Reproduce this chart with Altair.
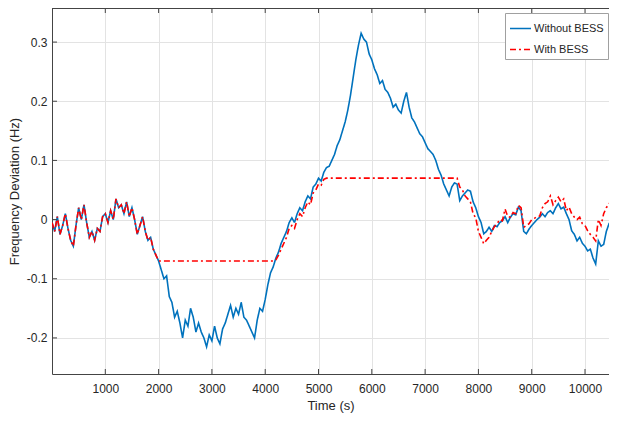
import altair as alt
import pandas as pd

# ---------------- data ----------------
time_s = list(range(0, 10651, 50))

without_bess = [
    # 0 - 950
    -0.005, -0.02, 0.005, -0.025, -0.01, 0.01, -0.015, -0.035, -0.045, -0.01,
    0.02, 0.0, 0.025, -0.005, -0.03, -0.02, -0.035, -0.015, -0.02, 0.005,
    # 1000 - 1950
    0.01, -0.005, 0.015, 0.0, 0.035, 0.02, 0.025, 0.01, 0.03, 0.005,
    0.02, 0.0, -0.025, -0.01, 0.005, -0.02, -0.035, -0.03, -0.05, -0.06,
    # 2000 - 2950
    -0.07, -0.085, -0.1, -0.095, -0.13, -0.14, -0.165, -0.155, -0.175, -0.2,
    -0.17, -0.18, -0.15, -0.165, -0.19, -0.175, -0.19, -0.2, -0.215, -0.195,
    # 3000 - 3950
    -0.205, -0.18, -0.2, -0.21, -0.185, -0.175, -0.16, -0.145, -0.165, -0.15,
    -0.16, -0.14, -0.165, -0.17, -0.18, -0.19, -0.2, -0.17, -0.15, -0.155,
    # 4000 - 4950
    -0.135, -0.11, -0.09, -0.08, -0.065, -0.055, -0.04, -0.03, -0.02, -0.005,
    0.003, -0.005, 0.01, 0.02, 0.015, 0.03, 0.04, 0.035, 0.055, 0.06,
    # 5000 - 5950
    0.07, 0.065, 0.08, 0.088, 0.09, 0.1, 0.11, 0.125, 0.135, 0.15,
    0.165, 0.185, 0.21, 0.24, 0.27, 0.295, 0.315, 0.305, 0.3, 0.28,
    # 6000 - 6950
    0.27, 0.255, 0.245, 0.23, 0.235, 0.22, 0.215, 0.205, 0.19, 0.195,
    0.185, 0.18, 0.2, 0.215, 0.19, 0.172, 0.165, 0.155, 0.145, 0.14,
    # 7000 - 7950
    0.13, 0.12, 0.115, 0.11, 0.1, 0.085, 0.075, 0.06, 0.05, 0.04,
    0.055, 0.062, 0.06, 0.032, 0.04, 0.045, 0.05, 0.048, 0.03, 0.02,
    # 8000 - 8950
    0.005, -0.005, -0.024, -0.02, -0.013, -0.02, -0.01, -0.012, -0.005, -0.002,
    0.005, -0.005, 0.004, 0.01, 0.008, 0.021, 0.015, -0.02, -0.024, -0.016,
    # 9000 - 9950
    -0.01, -0.005, 0.0, 0.004, 0.01, 0.005, 0.012, 0.015, 0.01, 0.02,
    0.027, 0.018, 0.021, 0.01, 0.0, -0.019, -0.025, -0.036, -0.03, -0.04,
    # 10000 - 10650
    -0.045, -0.053, -0.05, -0.065, -0.075, -0.036, -0.045, -0.042, -0.02, -0.007,
    0.0, 0.01, 0.005, 0.012,
]

with_bess = [
    # 0 - 950
    -0.005, -0.02, 0.005, -0.025, -0.01, 0.01, -0.015, -0.035, -0.045, -0.01,
    0.02, 0.0, 0.025, -0.005, -0.03, -0.02, -0.035, -0.015, -0.02, 0.005,
    # 1000 - 1950
    0.01, -0.005, 0.015, 0.0, 0.035, 0.02, 0.025, 0.01, 0.03, 0.005,
    0.02, 0.0, -0.025, -0.01, 0.005, -0.02, -0.035, -0.03, -0.05, -0.06,
    # 2000 - 2950
    -0.07, -0.07, -0.07, -0.07, -0.07, -0.07, -0.07, -0.07, -0.07, -0.07,
    -0.07, -0.07, -0.07, -0.07, -0.07, -0.07, -0.07, -0.07, -0.07, -0.07,
    # 3000 - 3950
    -0.07, -0.07, -0.07, -0.07, -0.07, -0.07, -0.07, -0.07, -0.07, -0.07,
    -0.07, -0.07, -0.07, -0.07, -0.07, -0.07, -0.07, -0.07, -0.07, -0.07,
    # 4000 - 4950
    -0.07, -0.07, -0.07, -0.07, -0.068, -0.06, -0.05, -0.04, -0.03, -0.015,
    -0.01, -0.015, 0.0, 0.01, 0.005, 0.02, 0.03, 0.025, 0.045, 0.05,
    # 5000 - 5950
    0.06, 0.058, 0.068, 0.07, 0.07, 0.07, 0.07, 0.07, 0.07, 0.07,
    0.07, 0.07, 0.07, 0.07, 0.07, 0.07, 0.07, 0.07, 0.07, 0.07,
    # 6000 - 6950
    0.07, 0.07, 0.07, 0.07, 0.07, 0.07, 0.07, 0.07, 0.07, 0.07,
    0.07, 0.07, 0.07, 0.07, 0.07, 0.07, 0.07, 0.07, 0.07, 0.07,
    # 7000 - 7950
    0.07, 0.07, 0.07, 0.07, 0.07, 0.07, 0.07, 0.07, 0.07, 0.07,
    0.07, 0.07, 0.07, 0.055, 0.05, 0.04, 0.035, 0.03, 0.01, 0.003,
    # 8000 - 8950
    -0.02, -0.03, -0.041, -0.035, -0.03, -0.02, -0.012, -0.007, 0.0, -0.002,
    0.018, 0.005, 0.004, 0.012, 0.01, 0.024, 0.02, -0.013, -0.01, -0.007,
    # 9000 - 9950
    0.0, 0.002, 0.005, 0.006, 0.02, 0.027, 0.03, 0.04, 0.025, 0.032,
    0.038, 0.03, 0.035, 0.015, 0.021, 0.01, 0.004, 0.0, 0.004, -0.007,
    # 10000 - 10650
    -0.01, -0.019, -0.025, -0.03, -0.036, 0.0, -0.01, 0.01, 0.02, 0.027,
    0.03, 0.038, 0.03, 0.035,
]

series_names = ["Without BESS", "With BESS"]
series_colors = ["#0072BD", "#FF0000"]
x_ticks = [1000, 2000, 3000, 4000, 5000, 6000, 7000, 8000, 9000, 10000]
y_ticks = [-0.2, -0.1, 0.0, 0.1, 0.2, 0.3]

df = pd.concat([
    pd.DataFrame({"t": time_s, "v": without_bess, "series": series_names[0]}),
    pd.DataFrame({"t": time_s, "v": with_bess, "series": series_names[1]}),
], ignore_index=True)

# ---------------- chart ----------------
W, H = 557, 366
FONT = "Liberation Sans"
TXT = "#262626"

xs = alt.Scale(domain=[0, 10450], nice=False, zero=False)
ys = alt.Scale(domain=[-0.261, 0.3576], nice=False, zero=False)

x_axis = alt.Axis(values=x_ticks, title="Time (s)", labelExpr="toString(datum.value)",
                  labelPadding=9, titlePadding=5)
y_axis = alt.Axis(values=y_ticks, title="Frequency Deviation (Hz)",
                  labelExpr="toString(round(datum.value*10)/10)",
                  labelPadding=5, titlePadding=5)

lines = alt.Chart(df).mark_line(strokeWidth=1.6, clip=True).encode(
    x=alt.X("t:Q", scale=xs, axis=x_axis),
    y=alt.Y("v:Q", scale=ys, axis=y_axis),
    color=alt.Color("series:N", sort=series_names,
                    scale=alt.Scale(domain=series_names, range=series_colors),
                    legend=alt.Legend(title=None)),
    strokeDash=alt.StrokeDash("series:N", sort=series_names,
                              scale=alt.Scale(domain=series_names, range=[[1, 0], [6, 3, 2, 3]]),
                              legend=alt.Legend(title=None)),
)

tick_df_x = pd.DataFrame({"t": x_ticks})
tick_df_y = pd.DataFrame({"v": y_ticks})

xt_bottom = alt.Chart(tick_df_x).mark_rule(color="#444444", strokeWidth=1).encode(
    x=alt.X("t:Q", scale=xs, axis=x_axis), y=alt.value(H), y2=alt.value(H - 5))
xt_top = alt.Chart(tick_df_x).mark_rule(color="#444444", strokeWidth=1).encode(
    x=alt.X("t:Q", scale=xs, axis=x_axis), y=alt.value(0), y2=alt.value(5))
yt_left = alt.Chart(tick_df_y).mark_rule(color="#444444", strokeWidth=1).encode(
    y=alt.Y("v:Q", scale=ys, axis=y_axis), x=alt.value(0), x2=alt.value(5))
top_border = alt.Chart(pd.DataFrame({"a": [0]})).mark_rule(color="#444444", strokeWidth=1).encode(
    x=alt.value(0), x2=alt.value(W), y=alt.value(0.5))

chart = alt.layer(lines, xt_bottom, xt_top, yt_left, top_border).properties(
    width=W, height=H,
    autosize=alt.AutoSizeParams(type="none"),
    padding={"left": 44, "top": 0, "right": 0, "bottom": 41},
).configure_view(stroke=None).configure_axis(
    grid=True, gridColor="#e3e3e3", gridWidth=1,
    domainColor="#444444", domainWidth=1,
    ticks=False, tickSize=0,
    labelFont=FONT, labelFontSize=12, labelColor=TXT,
    titleFont=FONT, titleFontSize=13, titleColor=TXT, titleFontWeight="normal",
).configure_legend(
    orient="none", legendX=453, legendY=5,
    fillColor="white", strokeColor="#a0a0a0", padding=4,
    symbolType="stroke", symbolSize=441, symbolStrokeWidth=1.3,
    labelFont=FONT, labelFontSize=11, labelColor=TXT, labelOffset=2,
    rowPadding=4,
)

chart.save("out.html", embed_options={"renderer": "svg", "actions": False})
